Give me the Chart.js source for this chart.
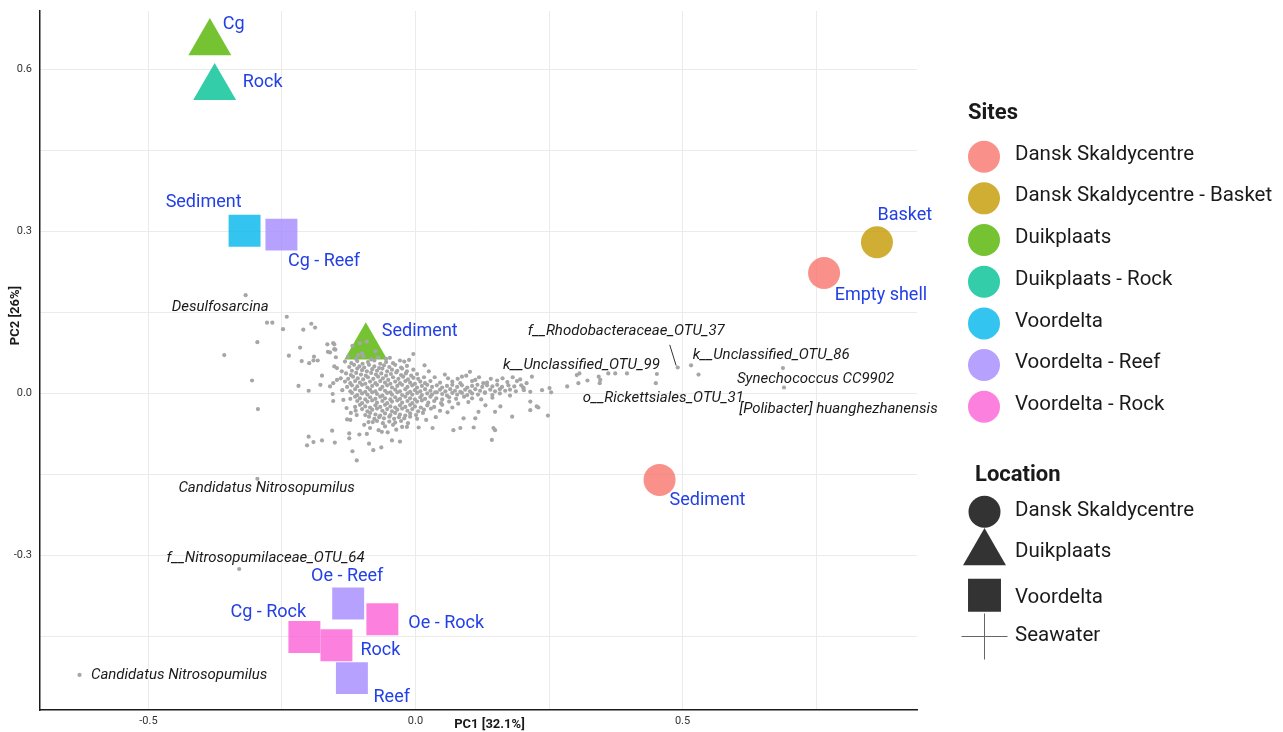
<!DOCTYPE html>
<html>
<head>
<meta charset="utf-8">
<title>PCA biplot</title>
<script src="https://cdn.jsdelivr.net/npm/chart.js@4.4.0/dist/chart.umd.min.js"></script>
<style>
    html, body { margin: 0; padding: 0; background: #fff; }
    #wrap { width: 1283px; height: 732px; position: relative; }
</style>
</head>
<body>
<div id="wrap"><canvas id="pca-chart"></canvas></div>
<script>
// sites / locations
const siteNames = ['Dansk Skaldycentre', 'Dansk Skaldycentre - Basket', 'Duikplaats', 'Duikplaats - Rock', 'Voordelta', 'Voordelta - Reef', 'Voordelta - Rock'];
const siteColors = ['#F8766D', '#C49A00', '#53B400', '#00C094', '#00B6EB', '#A58AFF', '#FB61D7'];
const locationNames = ['Dansk Skaldycentre', 'Duikplaats', 'Voordelta', 'Seawater'];

// samples (big markers)
const sampleLabels = ['Cg', 'Rock', 'Sediment', 'Sediment', 'Cg - Reef', 'Oe - Reef', 'Oe - Rock', 'Cg - Rock', 'Rock', 'Reef', 'Basket', 'Empty shell', 'Sediment'];
const sampleSites = ['Duikplaats', 'Duikplaats - Rock', 'Duikplaats', 'Voordelta', 'Voordelta - Reef', 'Voordelta - Reef', 'Voordelta - Rock', 'Voordelta - Rock', 'Voordelta - Rock', 'Voordelta - Reef', 'Dansk Skaldycentre - Basket', 'Dansk Skaldycentre', 'Dansk Skaldycentre'];
const sampleLocations = ['Duikplaats', 'Duikplaats', 'Duikplaats', 'Voordelta', 'Voordelta', 'Voordelta', 'Voordelta', 'Voordelta', 'Voordelta', 'Voordelta', 'Dansk Skaldycentre', 'Dansk Skaldycentre', 'Dansk Skaldycentre'];
const samplePC1 = [-0.385, -0.376, -0.093, -0.320, -0.251, -0.126, -0.062, -0.208, -0.148, -0.119, 0.864, 0.765, 0.457];
const samplePC2 = [0.649, 0.566, 0.086, 0.301, 0.294, -0.389, -0.418, -0.451, -0.466, -0.527, 0.280, 0.223, -0.160];

// labelled taxa
const taxaNames = ['Desulfosarcina', 'f__Rhodobacteraceae_OTU_37', 'k__Unclassified_OTU_86', 'Synechococcus CC9902', '[Polibacter] huanghezhanensis', 'k__Unclassified_OTU_99', 'o__Rickettsiales_OTU_31', 'Candidatus Nitrosopumilus', 'f__Nitrosopumilaceae_OTU_64', 'Candidatus Nitrosopumilus'];
const taxaPC1 = [-0.318, 0.491, 0.516, 0.688, 0.690, 0.452, 0.450, -0.296, -0.330, -0.629];
const taxaPC2 = [0.182, 0.048, 0.052, 0.047, 0.011, 0.036, 0.019, -0.158, -0.325, -0.521];

// other taxa (grey cloud), [PC1, PC2]
const taxaCloud = [
    [-0.126,0.068],[-0.111,0.064],[-0.098,0.069],[-0.083,0.063],[-0.070,0.067],[-0.055,0.064],[-0.029,0.061],
    [-0.132,0.059],[-0.120,0.056],[-0.109,0.060],[-0.099,0.055],[-0.089,0.058],[-0.077,0.061],[-0.066,0.055],[-0.055,0.058],[-0.042,0.056],[-0.021,0.059],
    [-0.124,0.049],[-0.115,0.053],[-0.105,0.050],[-0.096,0.048],[-0.087,0.053],[-0.077,0.050],[-0.068,0.047],[-0.059,0.052],[-0.049,0.049],[-0.038,0.053],[-0.027,0.048],[-0.016,0.051],
    [-0.119,0.042],[-0.109,0.046],[-0.100,0.043],[-0.091,0.041],[-0.081,0.045],[-0.072,0.042],[-0.062,0.046],[-0.053,0.041],[-0.044,0.044],[-0.034,0.042],[-0.025,0.046],[-0.016,0.041],[-0.004,0.044],
    [-0.130,0.037],[-0.121,0.034],[-0.111,0.038],[-0.102,0.035],[-0.093,0.033],[-0.083,0.038],[-0.074,0.035],[-0.064,0.037],[-0.055,0.033],[-0.046,0.036],[-0.036,0.039],[-0.027,0.034],[-0.018,0.037],[-0.008,0.033],[0.003,0.036],
    [-0.126,0.027],[-0.117,0.031],[-0.108,0.028],[-0.098,0.026],[-0.089,0.030],[-0.079,0.027],[-0.070,0.031],[-0.061,0.028],[-0.051,0.025],[-0.042,0.030],[-0.032,0.027],[-0.023,0.031],[-0.014,0.026],[-0.004,0.029],[0.005,0.027],[0.016,0.030],[0.061,0.028],[0.087,0.031],
    [-0.132,0.022],[-0.122,0.019],[-0.113,0.023],[-0.104,0.020],[-0.094,0.018],[-0.085,0.022],[-0.075,0.019],[-0.066,0.023],[-0.057,0.020],[-0.047,0.018],[-0.038,0.022],[-0.029,0.019],[-0.019,0.023],[-0.010,0.020],[-0.001,0.018],[0.009,0.022],[0.018,0.019],[0.028,0.023],[0.046,0.020],[0.069,0.022],[0.084,0.019],[0.106,0.023],[0.134,0.020],[0.153,0.024],[0.172,0.021],[0.190,0.023],
    [-0.128,0.012],[-0.119,0.015],[-0.109,0.013],[-0.100,0.016],[-0.090,0.011],[-0.081,0.014],[-0.072,0.016],[-0.062,0.012],[-0.053,0.015],[-0.044,0.011],[-0.034,0.014],[-0.025,0.016],[-0.015,0.012],[-0.006,0.015],[0.003,0.011],[0.012,0.014],[0.022,0.016],[0.031,0.012],[0.040,0.015],[0.050,0.011],[0.059,0.014],[0.069,0.016],[0.078,0.012],[0.087,0.015],[0.097,0.011],[0.106,0.014],[0.116,0.016],[0.125,0.012],[0.134,0.015],[0.144,0.013],[0.153,0.016],[0.162,0.012],[0.174,0.015],[0.185,0.013],[0.198,0.015],
    [-0.122,0.004],[-0.113,0.008],[-0.104,0.005],[-0.094,0.003],[-0.085,0.007],[-0.075,0.004],[-0.066,0.008],[-0.057,0.005],[-0.047,0.002],[-0.038,0.007],[-0.029,0.004],[-0.019,0.008],[-0.010,0.003],[-0.001,0.006],[0.009,0.004],[0.018,0.008],[0.028,0.005],[0.037,0.002],[0.046,0.007],[0.056,0.004],[0.065,0.008],[0.074,0.005],[0.084,0.003],[0.093,0.007],[0.102,0.004],[0.112,0.008],[0.121,0.005],[0.130,0.002],[0.140,0.007],[0.149,0.004],[0.158,0.008],[0.168,0.005],[0.177,0.007],[0.188,0.004],[0.203,0.006],
    [-0.119,0.001],[-0.109,-0.003],[-0.100,0.000],[-0.090,-0.002],[-0.081,0.002],[-0.072,-0.001],[-0.062,-0.004],[-0.053,0.001],[-0.044,-0.002],[-0.034,0.002],[-0.025,-0.003],[-0.015,0.000],[-0.006,-0.002],[0.003,0.001],[0.012,-0.003],[0.022,0.000],[0.031,-0.002],[0.040,0.002],[0.050,-0.001],[0.059,-0.004],[0.069,0.001],[0.078,-0.002],[0.087,0.001],[0.097,-0.003],[0.106,0.000],[0.117,-0.002],[0.130,0.001],[0.144,-0.003],[0.158,0.000],[0.177,-0.004],
    [-0.122,-0.010],[-0.113,-0.006],[-0.104,-0.009],[-0.094,-0.011],[-0.085,-0.007],[-0.075,-0.010],[-0.066,-0.006],[-0.057,-0.009],[-0.047,-0.011],[-0.038,-0.007],[-0.029,-0.010],[-0.019,-0.006],[-0.010,-0.009],[-0.001,-0.011],[0.009,-0.007],[0.018,-0.010],[0.028,-0.006],[0.039,-0.009],[0.050,-0.011],[0.063,-0.007],[0.076,-0.010],[0.091,-0.006],[0.106,-0.009],[0.123,-0.011],[0.144,-0.008],
    [-0.109,-0.014],[-0.100,-0.018],[-0.090,-0.015],[-0.081,-0.013],[-0.072,-0.017],[-0.062,-0.014],[-0.053,-0.018],[-0.044,-0.015],[-0.034,-0.013],[-0.025,-0.017],[-0.015,-0.014],[-0.006,-0.018],[0.003,-0.015],[0.012,-0.013],[0.024,-0.017],[0.035,-0.014],[0.048,-0.018],[0.063,-0.015],[0.080,-0.019],[0.099,-0.016],
    [-0.113,-0.025],[-0.104,-0.021],[-0.094,-0.024],[-0.085,-0.026],[-0.075,-0.022],[-0.066,-0.025],[-0.057,-0.021],[-0.047,-0.024],[-0.038,-0.026],[-0.029,-0.022],[-0.019,-0.025],[-0.010,-0.021],[-0.001,-0.024],[0.010,-0.026],[0.022,-0.022],[0.035,-0.025],[0.050,-0.021],[0.069,-0.026],
    [-0.100,-0.029],[-0.090,-0.033],[-0.081,-0.030],[-0.072,-0.028],[-0.062,-0.032],[-0.053,-0.029],[-0.044,-0.033],[-0.034,-0.030],[-0.025,-0.028],[-0.015,-0.032],[-0.006,-0.029],[0.005,-0.033],[0.016,-0.030],[0.029,-0.028],[0.046,-0.032],
    [-0.094,-0.040],[-0.085,-0.036],[-0.075,-0.039],[-0.066,-0.041],[-0.057,-0.037],[-0.047,-0.040],[-0.038,-0.036],[-0.029,-0.039],[-0.019,-0.041],[-0.010,-0.037],[0.001,-0.040],[0.014,-0.036],
    [-0.087,-0.043],[-0.077,-0.047],[-0.068,-0.044],[-0.059,-0.046],[-0.049,-0.043],[-0.040,-0.047],[-0.031,-0.044],[-0.021,-0.046],[-0.010,-0.043],[0.003,-0.047],
    [-0.072,-0.051],[-0.061,-0.055],[-0.049,-0.052],[-0.038,-0.054],[-0.027,-0.051],[-0.014,-0.055],
    [-0.057,-0.061],[-0.042,-0.058],[-0.025,-0.062],
    // scattered ones
    [-0.278,0.131],[-0.268,0.131],[-0.241,0.142],[-0.248,0.119],[-0.195,0.129],[-0.188,0.122],[-0.210,0.118],[-0.296,0.095],
    [-0.358,0.071],[-0.237,0.070],[-0.216,0.085],[-0.213,0.060],[-0.199,0.056],[-0.191,0.061],[-0.183,0.061],[-0.190,0.068],
    [-0.165,0.091],[-0.152,0.091],[-0.154,0.093],[-0.152,0.082],[-0.306,0.024],[-0.219,0.014],[-0.200,0.005],[-0.295,-0.029],
    [-0.178,0.016],[-0.175,0.033],[-0.156,-0.069],[-0.200,-0.080],[-0.203,-0.096],[-0.191,-0.090],[-0.175,-0.087],[-0.151,-0.091],
    [-0.124,-0.074],[-0.124,-0.083],[-0.105,-0.076],[-0.091,-0.075],[-0.087,-0.093],[-0.118,-0.107],[-0.110,-0.124],
    [-0.128,-0.048],[-0.122,-0.049],[-0.110,-0.040],[-0.112,-0.032],[-0.154,-0.014],[-0.155,-0.001],
    [-0.164,0.077],[-0.160,0.076],[-0.150,0.081],[-0.149,0.067],[-0.147,0.047],[-0.152,0.050],[-0.147,0.025],[-0.154,0.019],[-0.160,0.013],
    [-0.080,-0.053],[-0.088,-0.053],[-0.069,-0.068],[-0.063,-0.071],[-0.079,-0.105],[-0.064,-0.100],[-0.044,-0.087],[-0.029,-0.089],
    [0.006,-0.063],[0.032,-0.064],[0.071,-0.068],[0.084,-0.064],[0.109,-0.063],[0.112,-0.046],[0.090,-0.046],[0.149,-0.068],[0.143,-0.086],
    [0.181,-0.043],[0.215,-0.015],[0.230,-0.026],[0.248,-0.041],[0.251,0.010],[0.254,0.002],[0.237,0.006],[0.284,0.013],
    [0.302,0.034],[0.307,0.037],[0.305,0.019],[0.322,0.024],[0.343,0.031],[0.346,0.025],[0.345,0.019],[0.361,0.037],[0.374,0.037],[0.396,0.037],
    [0.530,0.035],[0.218,0.031],[0.202,0.010],[0.215,-0.031],[0.159,-0.024],[0.149,-0.034],[0.146,-0.064],
    [-0.104,0.093],[-0.091,0.096],[-0.100,0.074],[-0.107,0.071],[-0.004,0.073],[0.102,0.040],[0.112,0.025],[0.127,0.019],
    [0.202,0.011],[0.215,0.003],[0.227,-0.024],
    [-0.138,0.041],[-0.140,0.028],[-0.137,0.006],[-0.135,-0.012],[-0.129,-0.027],[-0.121,-0.036],[-0.118,0.088],[-0.075,0.078],
    [-0.048,0.066],[-0.012,0.062],[0.017,0.052],[0.025,0.041],[0.036,0.030],[0.055,0.035],[0.079,0.027],[0.095,0.033],
    [0.119,0.030],[0.141,0.027],[0.163,0.028],[0.182,0.030],[0.196,0.026],[0.208,0.019],[0.060,-0.035],[0.038,-0.044],
    [-0.096,-0.058],[-0.085,-0.064],[-0.052,-0.072],[-0.036,-0.067],[-0.016,-0.062],[0.020,-0.049],[0.131,-0.022],[0.118,-0.034]
];

// axis settings
const pc1Range = [-0.703, 0.939];
const pc2Range = [-0.586, 0.708];
const pc1Title = 'PC1 [32.1%]';
const pc2Title = 'PC2 [26%]';

// layout for the text next to markers: [dx, dy, align] in pixels
const sampleLabelPlacement = [[13, -18, 'left'], [28, -5, 'left'], [16, -15, 'left'], [-3, -28, 'right'], [6.5, 27, 'left'], [-1, -27, 'center'], [26, 4, 'left'], [1.7, -25, 'right'], [24, 5.5, 'left'], [21.6, 19, 'left'], [0.6, -27, 'left'], [10.6, 23, 'left'], [10, 21, 'left']];
const taxaLabelPlacement = [[-74, 11.7], [-150, -36], [1.6, -10.3], [-46, 11], [-44.7, 21.3], [-154, -9], [-73, 15], [-79, 9.6], [-72.6, -10.7], [11.4, 0]];

const LABEL_BLUE = '#2340e6';
const TEXT_DARK = '#1a1a1a';
const shapeFor = { 'Dansk Skaldycentre': 'circle', 'Duikplaats': 'triangle', 'Voordelta': 'rect', 'Seawater': 'cross' };
const radiusFor = { 'Dansk Skaldycentre': 16, 'Duikplaats': 24.8, 'Voordelta': 22.6, 'Seawater': 23 };

function withAlpha(hex, a) {
    const n = parseInt(hex.slice(1), 16);
    return `rgba(${(n >> 16) & 255}, ${(n >> 8) & 255}, ${n & 255}, ${a})`;
}

function isMultiple(v, step) {
    const r = v / step;
    return Math.abs(r - Math.round(r)) < 1e-6;
}

function tickText(v) {
    return Math.abs(v) < 1e-9 ? '0.0' : v.toFixed(1);
}

// datasets
const cloudData = taxaCloud.map(p => ({ x: p[0], y: p[1] }))
    .concat(taxaPC1.map((v, i) => ({ x: v, y: taxaPC2[i] })));

const datasets = [{
    label: 'taxa',
    data: cloudData,
    pointRadius: 2.1,
    pointBackgroundColor: '#a6a6a6',
    pointBorderWidth: 0,
    order: 0
}];

siteNames.forEach((site, s) => {
    const idx = sampleSites.map((v, i) => v === site ? i : -1).filter(i => i >= 0);
    datasets.push({
        label: site,
        data: idx.map(i => ({ x: samplePC1[i], y: samplePC2[i] })),
        pointStyle: idx.map(i => shapeFor[sampleLocations[i]]),
        pointRadius: idx.map(i => radiusFor[sampleLocations[i]]),
        pointBackgroundColor: withAlpha(siteColors[s], 0.8),
        pointBorderWidth: 0,
        order: 1
    });
});

// labels, axis titles, legends
const overlayPlugin = {
    id: 'overlay',
    afterDatasetsDraw(chart) {
        const { ctx } = chart;
        const xs = chart.scales.x, ys = chart.scales.y;
        ctx.save();
        ctx.textBaseline = 'middle';

        // taxa names
        ctx.font = 'italic 15px Roboto';
        ctx.fillStyle = TEXT_DARK;
        ctx.textAlign = 'left';
        taxaNames.forEach((t, i) => {
            const px = xs.getPixelForValue(taxaPC1[i]);
            const py = ys.getPixelForValue(taxaPC2[i]);
            ctx.fillText(t, px + taxaLabelPlacement[i][0], py + taxaLabelPlacement[i][1]);
        });
        // segment for the Rhodobacteraceae label
        const rx = xs.getPixelForValue(taxaPC1[1]), ry = ys.getPixelForValue(taxaPC2[1]);
        ctx.strokeStyle = '#333';
        ctx.lineWidth = 1;
        ctx.beginPath();
        ctx.moveTo(rx - 1.6, ry - 2);
        ctx.lineTo(rx - 8, ry - 22.7);
        ctx.stroke();

        // sample names
        ctx.font = '18px Roboto';
        ctx.fillStyle = LABEL_BLUE;
        sampleLabels.forEach((t, i) => {
            const [dx, dy, align] = sampleLabelPlacement[i];
            ctx.textAlign = align;
            ctx.fillText(t, xs.getPixelForValue(samplePC1[i]) + dx, ys.getPixelForValue(samplePC2[i]) + dy);
        });
        ctx.restore();
    },
    afterDraw(chart) {
        const { ctx, chartArea } = chart;
        const H = Chart.helpers;
        ctx.save();
        ctx.textBaseline = 'middle';

        // axis titles
        ctx.font = 'bold 13px Roboto';
        ctx.fillStyle = TEXT_DARK;
        ctx.textAlign = 'center';
        ctx.fillText(pc1Title, (chartArea.left + chartArea.right) / 2 + 11, chartArea.bottom + 15);
        ctx.save();
        ctx.translate(16, (chartArea.top + chartArea.bottom) / 2 - 45);
        ctx.rotate(-Math.PI / 2);
        ctx.fillText(pc2Title, 0, 0);
        ctx.restore();

        // Sites legend
        const lx = chartArea.right + 67;
        ctx.textAlign = 'left';
        ctx.font = 'bold 22px Roboto';
        ctx.fillText('Sites', lx - 16, 113);
        ctx.font = '20.5px Roboto';
        siteNames.forEach((site, s) => {
            const cy = 156.7 + s * 41.67;
            ctx.fillStyle = withAlpha(siteColors[s], 0.8);
            H.drawPoint(ctx, { pointStyle: 'circle', radius: 16, rotation: 0, borderWidth: 0 }, lx, cy);
            ctx.fillStyle = TEXT_DARK;
            ctx.fillText(site, lx + 31, cy - 2);
        });

        // Location legend
        ctx.font = 'bold 22px Roboto';
        ctx.fillText('Location', lx - 9, 475);
        ctx.font = '20.5px Roboto';
        const locY = [511.7, 552.8, 595.3, 636.5];
        const textY = [511.7, 552.7, 599.3, 636.7];
        locationNames.forEach((loc, k) => {
            ctx.fillStyle = '#333';
            ctx.strokeStyle = '#666';
            const isCross = shapeFor[loc] === 'cross';
            H.drawPoint(ctx, {
                pointStyle: shapeFor[loc],
                radius: loc === 'Voordelta' ? 23.3 : radiusFor[loc],
                rotation: 0,
                borderWidth: isCross ? 1 : 0
            }, lx + 0.5, locY[k]);
            ctx.fillStyle = TEXT_DARK;
            ctx.fillText(loc, lx + 31, textY[k] - 1);
        });
        ctx.restore();
    }
};

new Chart(document.getElementById('pca-chart').getContext('2d'), {
    type: 'scatter',
    data: { datasets: datasets },
    options: {
        responsive: true,
        maintainAspectRatio: false,
        animation: false,
        events: [],
        layout: { autoPadding: false, padding: { top: 11, right: 366, bottom: 0, left: 0 } },
        plugins: {
            legend: { display: false },
            tooltip: { enabled: false }
        },
        scales: {
            x: {
                type: 'linear',
                min: pc1Range[0],
                max: pc1Range[1],
                afterFit: scale => {
                    scale.height = 22;
                    scale.paddingLeft = 0;
                    scale.paddingRight = 0;
                },
                grid: { color: '#ebebeb', lineWidth: 1, drawTicks: false },
                border: { display: true, color: '#1a1a1a', width: 1.5 },
                ticks: {
                    stepSize: 0.25,
                    includeBounds: false,
                    autoSkip: false,
                    maxRotation: 0,
                    padding: 5,
                    color: '#333',
                    font: { family: 'Roboto', size: 11 },
                    callback: v => isMultiple(v, 0.5) ? tickText(v) : ''
                }
            },
            y: {
                type: 'linear',
                min: pc2Range[0],
                max: pc2Range[1],
                afterFit: scale => {
                    scale.width = 40;
                    scale.paddingTop = 0;
                    scale.paddingBottom = 0;
                },
                grid: { color: '#ebebeb', lineWidth: 1, drawTicks: false },
                border: { display: true, color: '#1a1a1a', width: 1.5 },
                ticks: {
                    stepSize: 0.15,
                    includeBounds: false,
                    autoSkip: false,
                    padding: 8,
                    color: '#333',
                    font: { family: 'Roboto', size: 11 },
                    callback: v => isMultiple(v, 0.3) ? tickText(v) : ''
                }
            }
        }
    },
    plugins: [overlayPlugin]
});
</script>
</body>
</html>
